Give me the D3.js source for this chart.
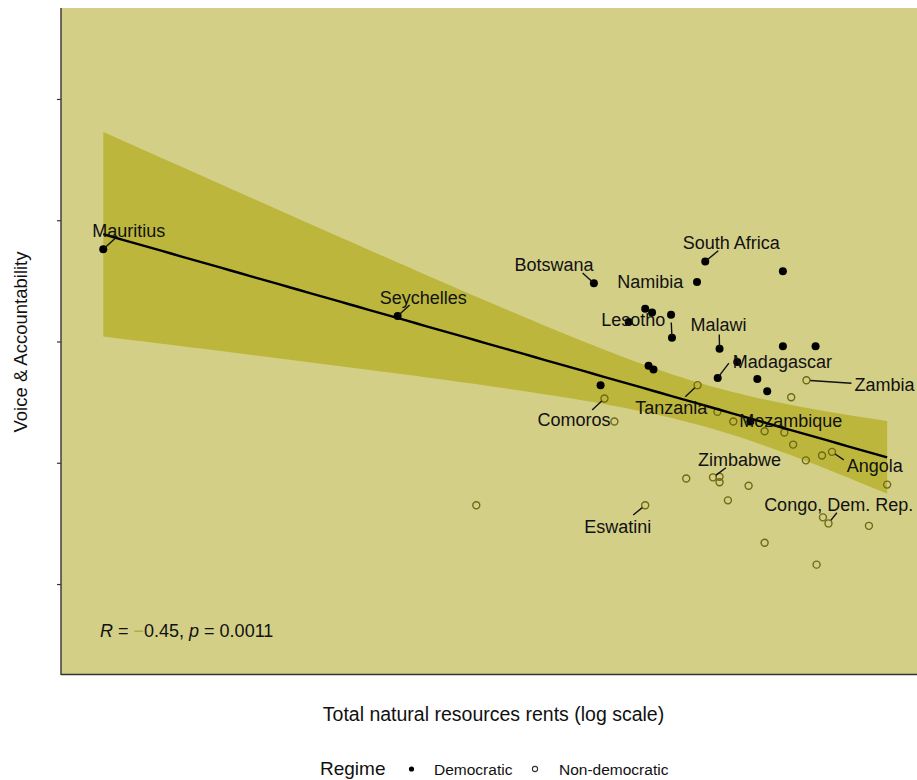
<!DOCTYPE html>
<html><head><meta charset="utf-8">
<script src="https://cdn.jsdelivr.net/npm/d3@7"></script>
<style>
body{margin:0;background:#fff}
svg{display:block}
text{font-family:"Liberation Sans",Arial,Helvetica,sans-serif}
</style>
</head><body>
<svg id="chart" width="917" height="780"></svg>
<script>
// ---- data ----
const countries = [
  "Mauritius","Seychelles","Botswana","Namibia","South Africa","","","","","",
  "Lesotho","Malawi","","","","Madagascar","","","","","","Mozambique",
  "Comoros","","Tanzania","","","","Zambia","","","","","","Angola","",
  "","Zimbabwe","","","","","Eswatini","","","","","Congo, Dem. Rep.",""
];
const rents = [
  0.010,0.224,1.78,5.29,5.77,13.1,3.06,3.29,4.02,2.57,
  4.06,6.71,3.17,3.34,1.91,6.58,8.09,10.0,11.1,13.1,18.5,9.29,
  1.99,2.21,5.32,6.56,7.76,14.3,16.8,10.8,13.3,14.6,16.7,19.8,22.0,39.4,
  4.72,6.26,6.71,6.71,9.12,7.33,3.06,0.514,10.8,18.7,20.0,21.2,32.5
];
const voice = [
  0.76,0.21,0.48,0.49,0.66,0.58,0.27,0.24,0.22,0.16,
  0.03,-0.06,-0.20,-0.23,-0.36,-0.30,-0.17,-0.31,-0.41,-0.04,-0.04,-0.66,
  -0.47,-0.66,-0.36,-0.58,-0.66,-0.46,-0.32,-0.74,-0.75,-0.85,-0.98,-0.94,-0.91,-1.18,
  -1.13,-1.12,-1.115,-1.16,-1.19,-1.31,-1.35,-1.35,-1.66,-1.84,-1.45,-1.50,-1.52
];
const regime = [
  "Democratic","Democratic","Democratic","Democratic","Democratic","Democratic","Democratic","Democratic","Democratic","Democratic",
  "Democratic","Democratic","Democratic","Democratic","Democratic","Democratic","Democratic","Democratic","Democratic","Democratic","Democratic","Democratic",
  "Non-democratic","Non-democratic","Non-democratic","Non-democratic","Non-democratic","Non-democratic","Non-democratic","Non-democratic","Non-democratic","Non-democratic","Non-democratic","Non-democratic","Non-democratic","Non-democratic",
  "Non-democratic","Non-democratic","Non-democratic","Non-democratic","Non-democratic","Non-democratic","Non-democratic","Non-democratic","Non-democratic","Non-democratic","Non-democratic","Non-democratic","Non-democratic"
];
const yTicks = [-2,-1,0,1,2];
const regimeLevels = ["Democratic","Non-democratic"];
const statText = {r: "0.45", p: "0.0011"};

// ---- label layout (repel offsets, px) ----
const labelLayout = [
  {name:"Mauritius", dx:25.5, dy:-19.3, sx:12, sy:-11},
  {name:"Seychelles", dx:25.7, dy:-19, sx:12, sy:-11},
  {name:"Botswana", dx:-39.8, dy:-18.8, sx:-11.3, sy:-10.3},
  {name:"Namibia", dx:-46.7, dy:-0.6, sx:null, sy:null},
  {name:"South Africa", dx:26, dy:-19, sx:13, sy:-10.7},
  {name:"Lesotho", dx:-38.7, dy:-18.3, sx:-0.7, sy:-15.3},
  {name:"Malawi", dx:-1.1, dy:-24, sx:-0.3, sy:-14.3},
  {name:"Madagascar", dx:64.7, dy:-16.8, sx:11.2, sy:-14.8},
  {name:"Zambia", dx:78, dy:4, sx:45, sy:3},
  {name:"Comoros", dx:-30.5, dy:21, sx:-12.3, sy:11.5},
  {name:"Tanzania", dx:-26.3, dy:22.3, sx:-12.3, sy:11.7},
  {name:"Mozambique", dx:40.5, dy:-0.7, sx:null, sy:null},
  {name:"Zimbabwe", dx:26.5, dy:-18.3, sx:13, sy:-9.6},
  {name:"Angola", dx:42.7, dy:13.7, sx:11.8, sy:8},
  {name:"Congo, Dem. Rep.", dx:10.2, dy:-19.3, sx:8.4, sy:-10.6},
  {name:"Eswatini", dx:-27.5, dy:21.6, sx:-12, sy:9.8}
];

// ---- setup ----
const svg = d3.select("#chart");
const P = {left:61, right:917, top:8, bottom:675};
const panelCol = "#d3cf87", ribbonCol = "#bcb73c", openCol = "#6f6914";

const x = d3.scaleLog().domain([0.0064, 54]).range([P.left, P.right]);
const y = d3.scaleLinear().domain([-2.75, 2.75]).range([P.bottom, P.top]);

const data = rents.map((r,i)=>({name:countries[i], rent:r, va:voice[i], regime:regime[i]}));

// panel
svg.append("rect").attr("x",P.left).attr("y",P.top)
  .attr("width",P.right-P.left+10).attr("height",P.bottom-P.top).attr("fill",panelCol);

// regression (OLS on log10 rent)
const xs = data.map(d=>Math.log10(d.rent)), ys = data.map(d=>d.va);
const n = xs.length, mx = d3.mean(xs), my = d3.mean(ys);
let sxx=0, sxy=0;
for(let i=0;i<n;i++){ sxx+=(xs[i]-mx)**2; sxy+=(xs[i]-mx)*(ys[i]-my); }
const b = sxy/sxx, a = my - b*mx;
let sse=0; for(let i=0;i<n;i++){ sse+=(ys[i]-(a+b*xs[i]))**2; }
const s = Math.sqrt(sse/(n-2)), tq = 2.012;
const [lx0, lx1] = d3.extent(xs);
const grid = d3.range(0, 81).map(k=>lx0 + (lx1-lx0)*k/80);
const band = grid.map(g=>{
  const fit = a + b*g, se = s*Math.sqrt(1/n + (g-mx)**2/sxx);
  return {g, fit, lo:fit - tq*se, hi:fit + tq*se};
});
svg.append("path").datum(band)
  .attr("d", d3.area().x(d=>x(10**d.g)).y0(d=>y(d.lo)).y1(d=>y(d.hi)))
  .attr("fill", ribbonCol);

// points
const gPts = svg.append("g");
gPts.selectAll("circle.dem").data(data.filter(d=>d.regime==="Democratic")).join("circle")
  .attr("cx",d=>x(d.rent)).attr("cy",d=>y(d.va)).attr("r",4).attr("fill","#000");
gPts.selectAll("circle.non").data(data.filter(d=>d.regime!=="Democratic")).join("circle")
  .attr("cx",d=>x(d.rent)).attr("cy",d=>y(d.va)).attr("r",3.5)
  .attr("fill","none").attr("stroke",openCol).attr("stroke-width",1.4);

// regression line
svg.append("path").datum(band)
  .attr("d", d3.line().x(d=>x(10**d.g)).y(d=>y(d.fit)))
  .attr("fill","none").attr("stroke","#000").attr("stroke-width",2.4);

// labels
const gLab = svg.append("g");
labelLayout.forEach(L=>{
  const d = data.find(e=>e.name===L.name);
  const px = x(d.rent), py = y(d.va);
  if(L.sx!==null){
    const len = Math.hypot(L.sx, L.sy), pad = d.regime==="Democratic" ? 1.5 : 3.8;
    gLab.append("line")
      .attr("x1", px + L.sx/len*pad).attr("y1", py + L.sy/len*pad)
      .attr("x2", px + L.sx).attr("y2", py + L.sy)
      .attr("stroke","#111").attr("stroke-width",1.4);
  }
  gLab.append("text").attr("x", px + L.dx).attr("y", py + L.dy).attr("dy","0.36em")
    .attr("text-anchor","middle").attr("font-size",18).attr("fill","#111").text(L.name);
});

// stat annotation
const st = svg.append("text").attr("x",100).attr("y",637).attr("font-size",18).attr("fill","#111");
st.append("tspan").attr("font-style","italic").text("R");
st.append("tspan").text(" = ");
st.append("tspan").attr("fill","#b5ae3e").text("\u2212");
st.append("tspan").text(statText.r + ", ");
st.append("tspan").attr("font-style","italic").text("p");
st.append("tspan").text(" = " + statText.p);

// axes
const yAxis = d3.axisLeft(y).tickValues(yTicks).tickSize(4).tickFormat("");
const gy = svg.append("g").attr("transform",`translate(${P.left},0)`).call(yAxis);
gy.select(".domain").remove();
gy.selectAll(".tick line").attr("stroke","#333").attr("stroke-width",1.2);
svg.append("line").attr("x1",P.left).attr("x2",P.left).attr("y1",P.top).attr("y2",P.bottom)
  .attr("stroke","#333").attr("stroke-width",1.4);
svg.append("line").attr("x1",P.left).attr("x2",P.right).attr("y1",P.bottom-0.5).attr("y2",P.bottom-0.5)
  .attr("stroke","#333").attr("stroke-width",1.4);

// axis titles
svg.append("text").attr("x",493.5).attr("y",721).attr("text-anchor","middle")
  .attr("font-size",19.5).attr("fill","#111").text("Total natural resources rents (log scale)");
svg.append("text").attr("transform","translate(27,342) rotate(-90)").attr("text-anchor","middle")
  .attr("font-size",18.5).attr("fill","#111").text("Voice & Accountability");

// legend
const lg = svg.append("g");
lg.append("text").attr("x",320).attr("y",775).attr("font-size",19).attr("fill","#111").text("Regime");
lg.append("circle").attr("cx",411.5).attr("cy",769).attr("r",2.6).attr("fill","#000");
lg.append("text").attr("x",434).attr("y",774.5).attr("font-size",15.5).attr("fill","#111").text(regimeLevels[0]);
lg.append("circle").attr("cx",535).attr("cy",769).attr("r",2.6).attr("fill","none").attr("stroke","#333").attr("stroke-width",1.1);
lg.append("text").attr("x",559).attr("y",774.5).attr("font-size",15.5).attr("fill","#111").text(regimeLevels[1]);
</script>
</body></html>
